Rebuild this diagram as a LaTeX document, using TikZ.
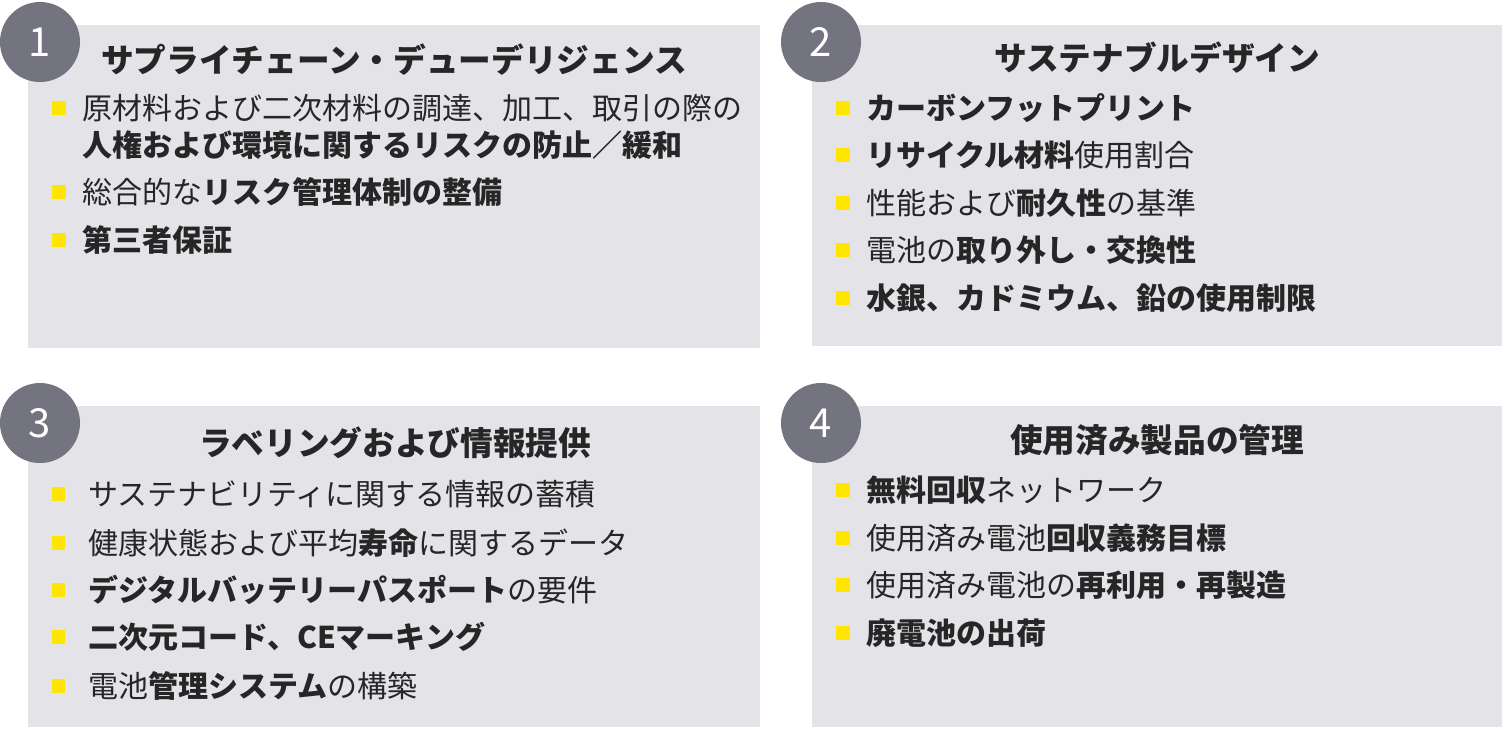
\documentclass[tikz,border=0pt]{standalone}
\usepackage{fontspec}
\setmainfont{Noto Sans CJK JP}
\usetikzlibrary{positioning}
\definecolor{panelgray}{HTML}{E3E3E8}
\definecolor{numgray}{HTML}{747480}
\definecolor{eyyellow}{HTML}{FFE600}
\tikzset{
  panel/.style={fill=panelgray,draw=none},
  num/.style={circle,fill=numgray,minimum size=60pt,inner sep=0pt,text=white,font=\fontsize{30}{30}\selectfont},
  ttl/.style={font=\bfseries\fontsize{24.5}{26}\selectfont,text=black!85},
  item/.style={anchor=west,inner sep=0pt,font=\fontsize{22.5}{24}\selectfont,text=black!85},
  bul/.style={fill=eyyellow,minimum size=10pt,inner sep=0pt,left=12pt of #1.west,anchor=east}
}
\begin{document}
\begin{tikzpicture}[x=0.75pt,y=-0.75pt]
  \useasboundingbox (0,0) rectangle (1504,729);
  % panels
  \fill[panel] (28,25) rectangle (760,348);
  \fill[panel] (812,25) rectangle (1502,346);
  \fill[panel] (28,406) rectangle (760,727);
  \fill[panel] (812,406) rectangle (1502,727);
  \node[num] (n1) at (40,42)  {1};
  \node[num] (n2) at (821,42) {2};
  \node[num] (n3) at (40,423) {3};
  \node[num] (n4) at (821,423) {4};

  % 1
  \node[ttl] (t1) at (394,60) {サプライチェーン・デューデリジェンス};
  \node[item] (a1) at (82,108) {原材料および二次材料の調達、加工、取引の際の};
  \node[item] (a1b) at (82,145) {\textbf{人権および環境に関するリスクの防止／緩和}};
  \node[item] (a2) at (82,192) {総合的な\textbf{リスク管理体制の整備}};
  \node[item] (a3) at (82,240) {\textbf{第三者保証}};
  \foreach \i in {a1,a2,a3} \node[bul=\i] {};

  % 2
  \node[ttl] (t2) at (1157,58) {サステナブルデザイン};
  \node[item] (b1) at (866,108) {\textbf{カーボンフットプリント}};
  \node[item] (b2) at (866,155) {\textbf{リサイクル材料}使用割合};
  \node[item] (b3) at (866,203) {性能および\textbf{耐久性}の基準};
  \node[item] (b4) at (866,250) {電池の\textbf{取り外し・交換性}};
  \node[item] (b5) at (866,298) {\textbf{水銀、カドミウム、鉛の使用制限}};
  \foreach \i in {b1,b2,b3,b4,b5} \node[bul=\i] {};

  % 3
  \node[ttl] (t3) at (395,443) {ラベリングおよび情報提供};
  \node[item] (c1) at (88,494) {サステナビリティに関する情報の蓄積};
  \node[item] (c2) at (88,543) {健康状態および平均\textbf{寿命}に関するデータ};
  \node[item] (c3) at (88,590) {\textbf{デジタルバッテリーパスポート}の要件};
  \node[item] (c4) at (88,637) {\textbf{二次元コード、CEマーキング}};
  \node[item] (c5) at (88,686) {電池\textbf{管理システム}の構築};
  \foreach \i in {c1,c2,c3,c4,c5} \node[bul=\i,left=17pt of \i.west] {};

  % 4
  \node[ttl] (t4) at (1157,440) {使用済み製品の管理};
  \node[item] (d1) at (866,490) {\textbf{無料回収}ネットワーク};
  \node[item] (d2) at (866,538) {使用済み電池\textbf{回収義務目標}};
  \node[item] (d3) at (866,585) {使用済み電池の\textbf{再利用・再製造}};
  \node[item] (d4) at (866,633) {\textbf{廃電池の出荷}};
  \foreach \i in {d1,d2,d3,d4} \node[bul=\i] {};
\end{tikzpicture}
\end{document}
